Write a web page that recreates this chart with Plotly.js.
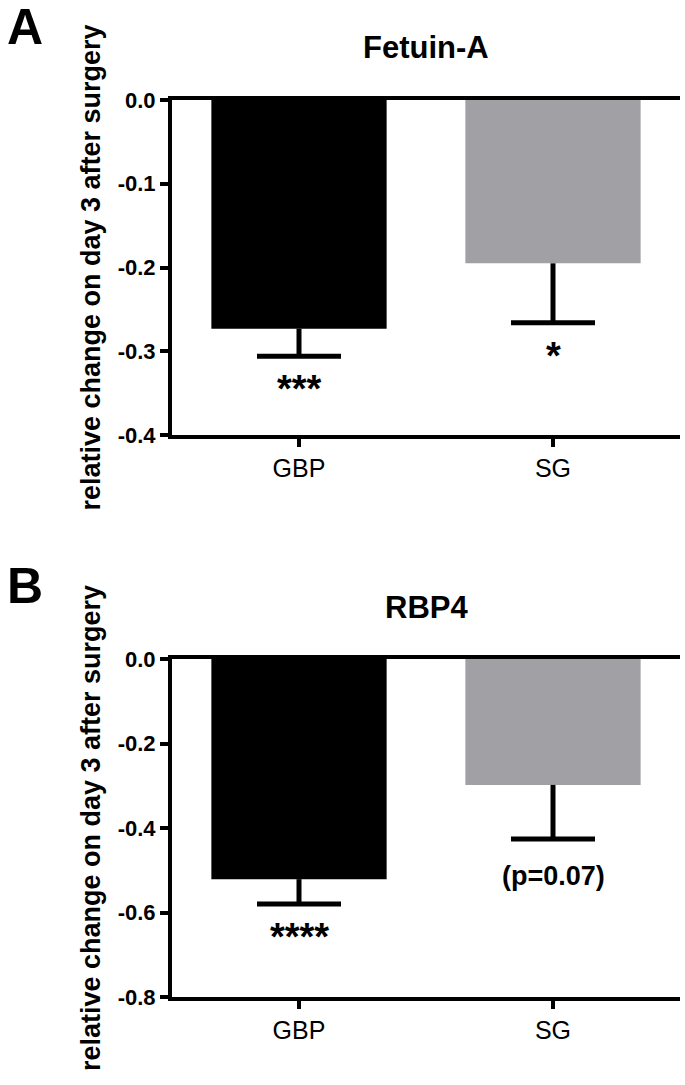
<!DOCTYPE html>
<html>
<head>
<meta charset="utf-8">
<script src="https://cdn.plot.ly/plotly-3.0.1.min.js"></script>
<style>html,body{margin:0;padding:0;background:#fff;}#chart{width:685px;height:1085px;}</style>
</head>
<body>
<div id="chart"></div>
<script>
// ---- data ----
const categories = ['GBP', 'SG'];
const barColors = ['#000000', '#a1a1a5'];

const fetuinMean = [-0.273, -0.195];
const fetuinErr  = [0.033, 0.071];
const fetuinSig  = ['***', '*'];
const fetuinTickVals = [0, -0.1, -0.2, -0.3, -0.4];
const fetuinTickText = ['0.0', '-0.1', '-0.2', '-0.3', '-0.4'];

const rbp4Mean = [-0.521, -0.298];
const rbp4Err  = [0.059, 0.128];
const rbp4Sig  = ['****', '(p=0.07)'];
const rbp4TickVals = [0, -0.2, -0.4, -0.6, -0.8];
const rbp4TickText = ['0.0', '-0.2', '-0.4', '-0.6', '-0.8'];

const panelTitles = ['Fetuin-A', 'RBP4'];
const panelLetters = ['A', 'B'];
const yTitle = 'relative change on day 3 after surgery';

// ---- styling ----
const FONT = 'Liberation Sans, Arial, Helvetica, sans-serif';
const LW = 4;

function barTrace(means, errs, xa, ya) {
  return {
    type: 'bar', x: categories, y: means, xaxis: xa, yaxis: ya,
    width: 0.69,
    marker: {color: barColors, line: {width: 0}},
    error_y: {type: 'data', symmetric: false, array: means.map(() => 0), arrayminus: errs,
              width: 0, thickness: 5, color: '#000'},
    hoverinfo: 'none', showlegend: false
  };
}
function capTrace(means, errs, xa, ya) {
  return {
    type: 'scatter', mode: 'markers', x: categories,
    y: means.map((m, i) => m - errs[i]), xaxis: xa, yaxis: ya,
    marker: {symbol: 'line-ew', size: 60, color: '#000', line: {width: 5, color: '#000'}},
    hoverinfo: 'none', showlegend: false, cliponaxis: false
  };
}

const data = [
  barTrace(fetuinMean, fetuinErr, 'x', 'y'),
  capTrace(fetuinMean, fetuinErr, 'x', 'y'),
  barTrace(rbp4Mean, rbp4Err, 'x2', 'y2'),
  capTrace(rbp4Mean, rbp4Err, 'x2', 'y2')
];

function xAxis(anchor) {
  return {
    anchor: anchor, range: [-0.5, 1.5], type: 'category',
    showline: true, linewidth: LW, linecolor: '#000', mirror: true,
    ticks: 'outside', ticklen: 8, tickwidth: LW, tickcolor: '#000',
    showgrid: false, zeroline: false,
    tickfont: {family: FONT, size: 25, color: '#000'}
  };
}
function yAxis(anchor, domain, range, vals, text) {
  return {
    anchor: anchor, domain: domain, range: range,
    tickmode: 'array', tickvals: vals, ticktext: text,
    showline: true, linewidth: LW, linecolor: '#000',
    ticks: 'outside', ticklen: 8, tickwidth: LW, tickcolor: '#000',
    showgrid: false, zeroline: false,
    tickfont: {family: FONT, size: 22, color: '#000', weight: 'bold'},
    title: {text: '<b>' + yTitle + '</b>', standoff: 10,
            font: {family: FONT, size: 27, color: '#000'}}
  };
}

const sigAnn = [];
function addSig(means, errs, labels, xref, yref) {
  labels.forEach((t, i) => {
    const isStar = t.indexOf('*') === 0;
    sigAnn.push({
      xref: xref, yref: yref, x: categories[i], y: means[i] - errs[i],
      text: '<b>' + t + '</b>', showarrow: false, yanchor: 'middle',
      yshift: isStar ? -33 : -37,
      font: {family: FONT, size: isStar ? 38 : 27, color: '#000'}
    });
  });
}
addSig(fetuinMean, fetuinErr, fetuinSig, 'x', 'y');
addSig(rbp4Mean, rbp4Err, rbp4Sig, 'x2', 'y2');

const layout = {
  width: 685, height: 1085,
  margin: {l: 172, r: 5, t: 100, b: 88, pad: 0},
  paper_bgcolor: '#fff', plot_bgcolor: '#fff',
  showlegend: false, bargap: 0.3,
  xaxis: xAxis('y'),
  yaxis: yAxis('x', [0.6265, 1], [-0.4, 0], fetuinTickVals, fetuinTickText),
  xaxis2: xAxis('y2'),
  yaxis2: yAxis('x2', [0, 0.3768], [-0.8, 0], rbp4TickVals, rbp4TickText),
  annotations: sigAnn.concat([
    {xref: 'paper', yref: 'paper', x: 0.5, y: 1 + 52/897, xanchor: 'center', yanchor: 'middle',
     text: '<b>' + panelTitles[0] + '</b>', showarrow: false, font: {family: FONT, size: 31, color: '#000'}},
    {xref: 'paper', yref: 'paper', x: 0.5, y: 0.3768 + 52/897, xanchor: 'center', yanchor: 'middle',
     text: '<b>' + panelTitles[1] + '</b>', showarrow: false, font: {family: FONT, size: 31, color: '#000'}},
    {xref: 'paper', yref: 'paper', x: (25 - 172)/508, y: 1 + 73/897, xanchor: 'center', yanchor: 'middle',
     text: '<b>' + panelLetters[0] + '</b>', showarrow: false, font: {family: FONT, size: 50, color: '#000'}},
    {xref: 'paper', yref: 'paper', x: (25 - 172)/508, y: 0.3768 + 73/897, xanchor: 'center', yanchor: 'middle',
     text: '<b>' + panelLetters[1] + '</b>', showarrow: false, font: {family: FONT, size: 50, color: '#000'}}
  ])
};

Plotly.newPlot('chart', data, layout, {displayModeBar: false, staticPlot: true});
</script>
</body>
</html>
